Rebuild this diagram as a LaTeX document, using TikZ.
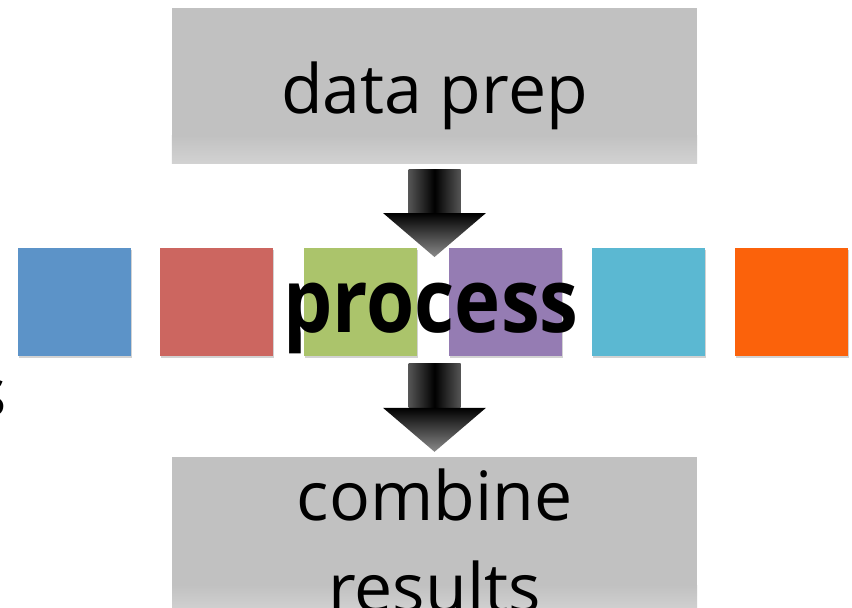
\documentclass[tikz,border=0pt]{standalone}
\usepackage{fontspec}
\setmainfont{Open Sans}
\usetikzlibrary{shadows,calc}
\definecolor{boxgray}{HTML}{C1C1C1}
\definecolor{boxlight}{HTML}{D2D2D2}
\definecolor{sqblue}{HTML}{5C93C8}
\definecolor{sqred}{HTML}{CC6660}
\definecolor{sqgreen}{HTML}{ABC46B}
\definecolor{sqpurple}{HTML}{957CB3}
\definecolor{sqcyan}{HTML}{5BB8D2}
\definecolor{sqorange}{HTML}{FB620B}
\definecolor{shaftedge}{HTML}{555555}
\definecolor{tipgray}{HTML}{8A8A8A}
\newcommand\myarrow[2]{%
  \shade[left color=shaftedge, right color=shaftedge, middle color=black]
    ($(#1)+(-26,0)$) rectangle ($(#2)+(26,-44)$);
  \shade[top color=black, bottom color=tipgray]
    ($(#2)+(-51.5,-44)$) -- ($(#2)+(51.5,-44)$) -- (#2) -- cycle;
}
\begin{document}
\begin{tikzpicture}[x=1pt,y=-1pt,
  graybox/.style={fill=boxgray, draw=none, inner sep=0, minimum width=525, minimum height=#1},
  sq/.style={fill=#1, draw=none, inner sep=0, minimum width=113, minimum height=108,
    drop shadow={shadow xshift=0.6pt, shadow yshift=-2.2pt, opacity=0.35}},
  lbl/.style={font=\fontsize{68}{92}\selectfont, inner sep=0, anchor=base}]
\useasboundingbox (0,0) rectangle (852,608);
\fill[white] (0,0) rectangle (852,608);

% top box
\node[graybox=155] (prep) at (434.5,85.5) {};
\shade[top color=boxgray, bottom color=boxlight]
  ($(prep.south west)+(0,-28)$) rectangle (prep.south east);
\node[lbl] (preptext) at (434.5,113) {data prep};

% bottom box
\node[graybox=183] (comb) at (434.5,548.5) {};
\shade[top color=boxgray, bottom color=boxlight]
  (172,585) rectangle (697,612);
\node[lbl] (combtext) at (434.5,520) {combine};
\node[lbl] (restext) at (434.5,612) {results};

% squares
\node[sq=sqblue]   (s1) at (74.5,302) {};
\node[sq=sqred]    (s2) at (216.5,302) {};
\node[sq=sqgreen]  (s3) at (360.5,302) {};
\node[sq=sqpurple] (s4) at (505.5,302) {};
\node[sq=sqcyan]   (s5) at (648.5,302) {};
\node[sq=sqorange] (s6) at (791.5,302) {};

% arrows
\coordinate (a1s) at ($(prep.south)+(0,6)$);
\coordinate (a1t) at (434.5,257);
\coordinate (a2s) at (434.5,363);
\coordinate (a2t) at ($(comb.north)+(0,-5)$);
\myarrow{a1s}{a1t}
\myarrow{a2s}{a2t}

% process label
\node[inner sep=0, anchor=base, font=\bfseries\fontsize{78}{78}\selectfont]
  (proc) at (431,332) {\scalebox{1}[1.14]{process}};

% cut-off letter at the left edge
\node[lbl, anchor=base east] (lefts) at (7.5,416) {s};
\end{tikzpicture}
\end{document}
